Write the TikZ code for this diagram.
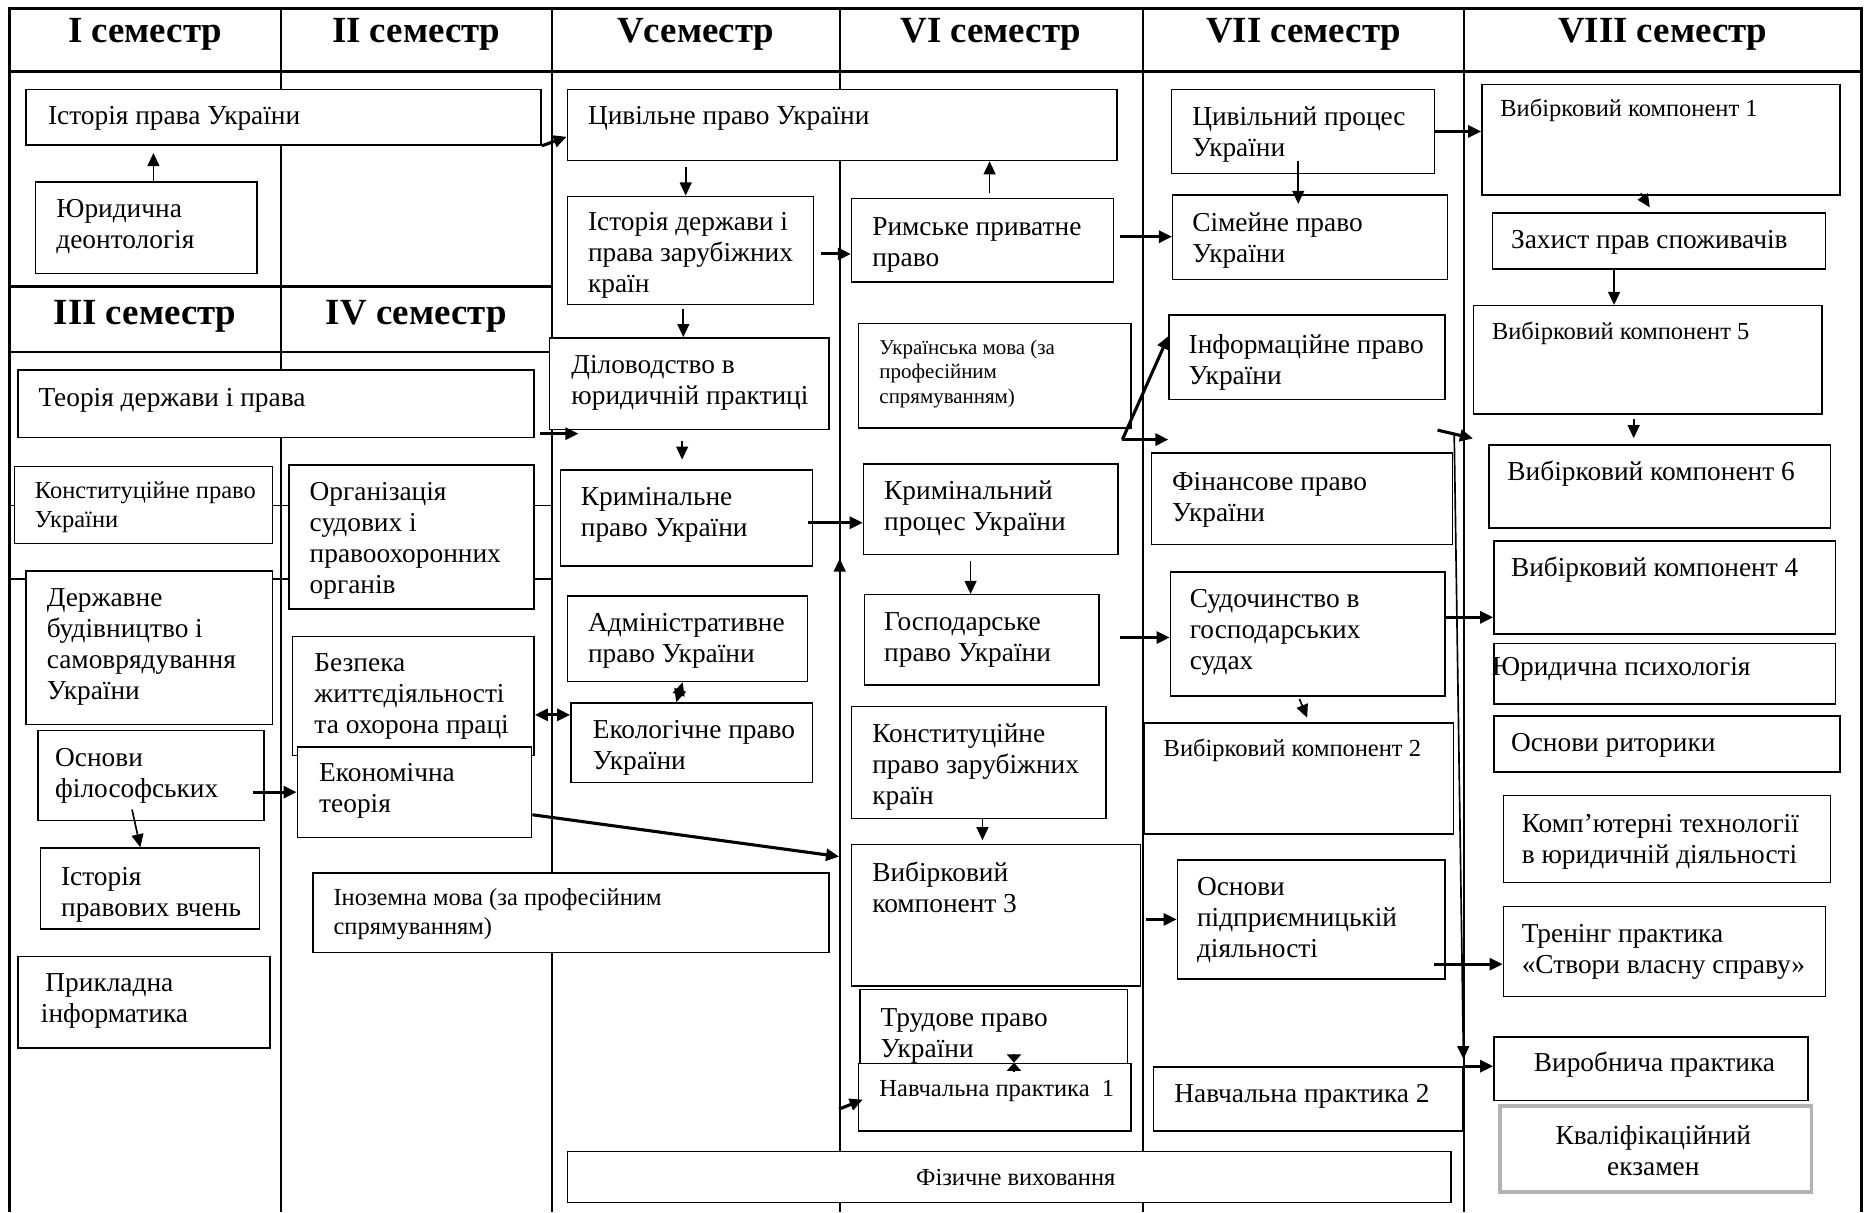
\documentclass[tikz,border=0pt]{standalone}
\usepackage{fontspec}
\setmainfont{Liberation Serif}
\usetikzlibrary{arrows.meta, fit}

\newcommand{\fmain}{\fontsize{11.5}{13}\selectfont}
\newcommand{\fsmall}{\fontsize{10.3}{12}\selectfont}
\newcommand{\ftiny}{\fontsize{8.8}{10.25}\selectfont}
\newcommand{\fhead}{\fontsize{15.5}{18}\selectfont\bfseries}

\tikzset{>={Triangle[length=5.5pt, width=5pt]}}

\begin{document}
\begin{tikzpicture}[x=0.5pt, y=-0.5pt, line join=miter,
	box/.style={draw, fill=white, line width=0.6pt, inner sep=0pt},
	txt/.style={inner sep=0pt, anchor=north west, align=left, font=\fmain, execute at begin node=\strut},
	head/.style={inner sep=0pt, anchor=base, font=\fhead},
	arr/.style={->, line width=0.7pt},
	harr/.style={->, line width=1.3pt},
	smalltip/.style={->, line width=0.7pt, >={Triangle[length=3.5pt, width=6pt]}}]

	\useasboundingbox (0,0) rectangle (1568,1019);
	\fill[white] (0,0) rectangle (1568,1019);

	% Сітка таблиці
	\draw[line width=1.1pt] (8,1019) -- (8,7) -- (1565,7) -- (1565,1019);
	\draw[line width=1.1pt] (8,60) -- (1565,60);
	\draw[line width=1.1pt] (8,241) -- (464,241);
	\draw[line width=1.1pt] (8,296) -- (464,296);
	\draw[line width=0.7pt] (8,425) -- (464,425);
	\draw[line width=0.7pt] (8,487) -- (464,487);
	\draw[line width=0.7pt] (236,7) -- (236,1019);
	\draw[line width=0.7pt] (464,7) -- (464,1019);
	\draw[line width=0.7pt] (706,7) -- (706,1019);
	\draw[line width=0.7pt] (961,7) -- (961,1019);
	\draw[line width=0.7pt] (1231,7) -- (1231,1019);

	% Заголовки семестрів
	\node[head] (sem1) at (122,36) {I семестр};
	\node[head] (sem2) at (350,36) {II семестр};
	\node[head] (sem5) at (585,36) {Vсеместр};
	\node[head] (sem6) at (833,36) {VI семестр};
	\node[head] (sem7) at (1096,36) {VII семестр};
	\node[head] (sem8) at (1398,36) {VIII семестр};
	\node[head] (sem3) at (122,273) {III семестр};
	\node[head] (sem4) at (350,273) {IV семестр};

	% I -- IV семестри
	\node[box, fit={(22,75) (455,122)}] (istprava) {};
	\node[txt] (t-istprava) at (40,86) {Історія права України};
	\node[box, fit={(30,153) (216,230)}] (jurdeon) {};
	\node[txt] (t-jurdeon) at (47,167.5) {Юридична\\деонтологія};
	\node[box, fit={(15,311) (449,368)}] (teoria) {};
	\node[txt] (t-teoria) at (32,323) {Теорія держави і права};
	\node[box, fit={(12,392) (229,457)}] (konstukr) {};
	\node[txt, font=\fsmall] (t-konstukr) at (29,405) {Конституційне право\\України};
	\node[box, fit={(243,391) (449,512)}] (orgsud) {};
	\node[txt] (t-orgsud) at (260,405.5) {Організація\\судових і\\правоохоронних\\органів};
	\node[box, fit={(22,480) (229,609)}] (derzbud) {};
	\node[txt] (t-derzbud) at (39,494.5) {Державне\\будівництво і\\самоврядування\\України};
	\node[box, fit={(246,535) (449,635)}] (bezpeka) {};
	\node[txt] (t-bezpeka) at (264,549.5) {Безпека\\життєдіяльності\\та охорона праці};
	\node[box, fit={(32,614) (222,690)}] (osnfil) {};
	\node[txt] (t-osnfil) at (46,628.5) {Основи\\філософських};
	\node[box, fit={(250,628) (447,704)}] (ekonom) {};
	\node[txt] (t-ekonom) at (268,641.5) {Економічна\\теорія};
	\node[box, fit={(34,713) (218,781)}] (istvchen) {};
	\node[txt] (t-istvchen) at (51,728.5) {Історія\\правових вчень};
	\node[box, fit={(15,804) (227,881)}] (prykl) {};
	\node[txt] (t-prykl) at (34,818.5) {\,Прикладна\\інформатика};
	\node[box, fit={(263,734) (697,801)}] (inozem) {};
	\node[txt, font=\fsmall] (t-inozem) at (280,747) {Іноземна мова (за професійним\\спрямуванням)};

	% V семестр
	\node[box, fit={(477,75) (939,135)}] (civpravo) {};
	\node[txt] (t-civpravo) at (494,86) {Цивільне право України};
	\node[box, fit={(477,165) (684,256)}] (istderzh) {};
	\node[txt] (t-istderzh) at (494,178.5) {Історія держави і\\права зарубіжних\\країн};
	\node[box, fit={(462,284) (697,361)}] (dilovod) {};
	\node[txt] (t-dilovod) at (480,298.5) {Діловодство в\\юридичній практиці};
	\node[box, fit={(471,395) (683,476)}] (kryminal) {};
	\node[txt] (t-kryminal) at (488,409.5) {Кримінальне\\право України};
	\node[box, fit={(477,501) (679,573)}] (admin) {};
	\node[txt] (t-admin) at (494,515.5) {Адміністративне\\право України};
	\node[box, fit={(480,591) (683,658)}] (ekolog) {};
	\node[txt] (t-ekolog) at (498,605.5) {Екологічне право\\України};

	% VI семестр
	\node[box, fit={(716,167) (936,237)}] (rymske) {};
	\node[txt] (t-rymske) at (733,182.5) {Римське приватне\\право};
	\node[box, fit={(722,272) (951,360)}] (ukrmova) {};
	\node[txt, font=\ftiny] (t-ukrmova) at (739,285.5) {Українська мова (за\\професійним\\спрямуванням)};
	\node[box, fit={(726,390) (940,466)}] (krymproc) {};
	\node[txt] (t-krymproc) at (743,403.5) {Кримінальний\\процес України};
	\node[box, fit={(727,500) (924,576)}] (gospod) {};
	\node[txt] (t-gospod) at (743,514.5) {Господарське\\право України};
	\node[box, fit={(716,594) (930,688)}] (konstzar) {};
	\node[txt] (t-konstzar) at (733,608.5) {Конституційне\\право зарубіжних\\країн};
	\node[box, fit={(716,710) (959,829)}] (vybir3) {};
	\node[txt] (t-vybir3) at (733,724.5) {Вибірковий\\компонент 3};
	\node[box, fit={(723,832) (948,896)}] (trudove) {};
	\node[txt] (t-trudove) at (740,847.5) {Трудове право\\України};
	\node[box, fit={(722,894) (951,951)}] (navch1) {};
	\node[txt, font=\fsmall] (t-navch1) at (739,905) {Навчальна практика~~1};
	\node[box, fit={(477,968) (1220,1011)}] (fizvykh) {};
	\node[font=\fsmall, inner sep=0pt] (t-fizvykh) at (854,990) {Фізичне виховання};

	% VII семестр
	\node[box, fit={(985,75) (1206,146)}] (civproc) {};
	\node[txt] (t-civproc) at (1002,89.5) {Цивільний процес\\України};
	\node[box, fit={(986,164) (1217,235)}] (simeyne) {};
	\node[txt] (t-simeyne) at (1002,178.5) {Сімейне право\\України};
	\node[box, fit={(983,265) (1215,336)}] (inform) {};
	\node[txt] (t-inform) at (999,280.5) {Інформаційне право\\України};
	\node[box, fit={(968,381) (1221,458)}] (finans) {};
	\node[txt] (t-finans) at (985,396.5) {Фінансове право\\України};
	\node[box, fit={(984,481) (1215,585)}] (sudoch) {};
	\node[txt] (t-sudoch) at (1000,495.5) {Судочинство в\\господарських\\судах};
	\node[box, fit={(962,608) (1222,701)}] (vybir2) {};
	\node[txt, font=\fsmall] (t-vybir2) at (978,619) {Вибірковий компонент 2};
	\node[box, fit={(990,723) (1215,823)}] (osnpidpr) {};
	\node[txt] (t-osnpidpr) at (1006,737.5) {Основи\\підприємницькій\\діяльності};
	\node[box, fit={(970,897) (1230,951)}] (navch2) {};
	\node[txt] (t-navch2) at (987,908) {Навчальна практика 2};

	% VIII семестр
	\node[box, fit={(1246,71) (1547,164)}] (vybir1) {};
	\node[txt, font=\fsmall] (t-vybir1) at (1261,81) {Вибірковий компонент 1};
	\node[box, fit={(1255,179) (1535,226)}] (zakhyst) {};
	\node[txt] (t-zakhyst) at (1270,190) {Захист прав споживачів};
	\node[box, fit={(1239,257) (1532,348)}] (vybir5) {};
	\node[txt, font=\fsmall] (t-vybir5) at (1254,268) {Вибірковий компонент 5};
	\node[box, fit={(1252,374) (1539,444)}] (vybir6) {};
	\node[txt] (t-vybir6) at (1267,385) {Вибірковий компонент 6};
	\node[box, fit={(1256,455) (1543,533)}] (vybir4) {};
	\node[txt] (t-vybir4) at (1270,466) {Вибірковий компонент 4};
	\node[box, fit={(1256,541) (1543,592)}] (jurpsych) {};
	\node[txt] (t-jurpsych) at (1254,549) {Юридична психологія};
	\node[box, fit={(1256,602) (1547,649)}] (rytoryka) {};
	\node[txt] (t-rytoryka) at (1270,613) {Основи риторики};
	\node[box, fit={(1264,669) (1539,742)}] (kompteh) {};
	\node[txt] (t-kompteh) at (1279,684.5) {Комп’ютерні технології\\в юридичній діяльності};
	\node[box, fit={(1264,762) (1535,838)}] (trening) {};
	\node[txt] (t-trening) at (1279,776.5) {Тренінг практика\\«Створи власну справу»};
	\node[box, fit={(1256,872) (1520,925)}] (vyrob) {};
	\node[font=\fmain, inner sep=0pt] (t-vyrob) at (1391,895) {Виробнича практика};
	\node[box, draw=gray!60, line width=1.6pt, fit={(1261,930) (1523,1002)}] (kvalif) {};
	\node[font=\fmain, inner sep=0pt, align=center] (t-kvalif) at (1390,967) {Кваліфікаційний\\екзамен};

	% Зв'язки
	\draw[arr, shorten >=3pt] ([xshift=3pt]jurdeon.north) -- ([xshift=3pt]jurdeon.north |- istprava.south);
	\draw[harr] (istprava.south east) -- ([yshift=-5pt]civpravo.west);
	\draw[arr] ([xshift=-2pt, yshift=-2.5pt]istderzh.north |- civpravo.south) -- ([xshift=-2pt]istderzh.north);
	\draw[arr] ([xshift=-3pt, yshift=-1.5pt]istderzh.south) -- ([xshift=-3pt]istderzh.south |- dilovod.north);
	\draw[harr] ([xshift=3pt, yshift=-1.5pt]istderzh.east) -- ([yshift=-1.5pt]istderzh.east -| rymske.west);
	\draw[arr] ([xshift=3pt, yshift=2pt]rymske.north) -- ([xshift=3pt]rymske.north |- civpravo.south);
	\draw[harr] ([xshift=2pt, yshift=2pt]teoria.south east) -- ([xshift=12.5pt, yshift=-1.5pt]dilovod.south west);
	\draw[arr] ([xshift=-3pt, yshift=-4.5pt]dilovod.south) -- ([xshift=-3pt, yshift=4pt]dilovod.south |- kryminal.north);
	\draw[harr] ([xshift=-2pt, yshift=-2pt]kryminal.east) -- ([yshift=-2pt]kryminal.east -| krymproc.west);
	\coordinate (upv) at (706,481);
	\draw[arr] (upv) -- ([yshift=-1.5pt]upv |- krymproc.south);
	\draw[<->, line width=0.9pt] ([xshift=-2pt]admin.south) -- ([xshift=-6.5pt]ekolog.north);
	\draw[<->, line width=1.3pt] ([yshift=-8pt]bezpeka.east) -- ([yshift=-8pt]bezpeka.east -| ekolog.west);
	\draw[harr] ([xshift=-5pt]osnfil.east |- ekonom.west) -- (ekonom.west);
	\draw[arr] ([xshift=-8pt, yshift=5pt]osnfil.south) -- ([xshift=-4pt]istvchen.north);
	\draw[harr, shorten >=5pt] ([yshift=-9.5pt]ekonom.east) -- ([yshift=24pt]vybir3.west);
	\draw[arr] ([xshift=-8.5pt, yshift=-2.5pt]krymproc.south) -- ([xshift=-8.5pt]krymproc.south |- gospod.north);
	\draw[arr] ([xshift=1.5pt]konstzar.south) -- ([xshift=1.5pt, yshift=1.5pt]konstzar.south |- vybir3.north);
	\draw[smalltip] ([xshift=8pt, yshift=3.5pt]navch1.north) -- ([xshift=8pt]navch1.north);
	\draw[smalltip] ([xshift=8pt, yshift=-3.5pt]navch1.north) -- ([xshift=8pt]navch1.north);
	\draw[harr] ([xshift=-8pt, yshift=-5pt]navch1.west) -- ([xshift=2pt, yshift=-1pt]navch1.west);
	\draw[harr] ([xshift=2.5pt, yshift=1.5pt]rymske.east) -- ([yshift=1.5pt]rymske.east -| simeyne.west);
	\draw[arr] ([xshift=-2pt, yshift=5.5pt]civproc.south) -- ([xshift=-2pt, yshift=-4pt]civproc.south |- simeyne.north);
	\coordinate (ukrfork) at ([xshift=-4pt, yshift=-4.5pt]ukrmova.south east);
	\draw[harr] (ukrfork) -- ([yshift=-9pt]inform.north west);
	\draw[harr] (ukrfork) -- (ukrfork -| inform.west);
	\coordinate (infofork) at ([xshift=-3.5pt, yshift=-12.5pt]inform.south east);
	\draw[harr] (infofork) -- ([yshift=-10pt]vybir5.south west);
	\draw[arr] ([xshift=7pt, yshift=-1.5pt]infofork) -- ([xshift=-12.5pt, yshift=4pt]vyrob.west);
	\draw[harr] (civproc.east) -- (civproc.east -| vybir1.west);
	\draw[arr] ([xshift=-8.5pt, yshift=1pt]vybir1.south) -- ([xshift=-4pt, yshift=2pt]zakhyst.north);
	\draw[arr] ([xshift=-19pt]zakhyst.south) -- ([xshift=-19pt]zakhyst.south |- vybir5.north);
	\draw[arr] ([xshift=-6pt, yshift=-2pt]vybir5.south) -- ([xshift=-6pt, yshift=2.5pt]vybir5.south |- vybir6.north);
	\draw[harr] ([yshift=7pt]sudoch.east) -- ([yshift=7pt]sudoch.east -| vybir4.west);
	\draw[arr] ([xshift=-3.5pt, yshift=-1pt]sudoch.south) -- ([xshift=3.5pt, yshift=2pt]vybir2.north);
	\draw[harr] ([xshift=8.5pt, yshift=1pt]gospod.east) -- ([yshift=1pt]gospod.east -| sudoch.west);
	\draw[harr] ([xshift=2pt]vybir3.east |- osnpidpr.west) -- (osnpidpr.west);
	\draw[harr] ([xshift=-5pt, yshift=6.5pt]osnpidpr.south east) -- ([yshift=6.5pt]osnpidpr.south east -| trening.west);
	\draw[harr] (navch2.north east) -- (navch2.north east -| vyrob.west);

\end{tikzpicture}
\end{document}
